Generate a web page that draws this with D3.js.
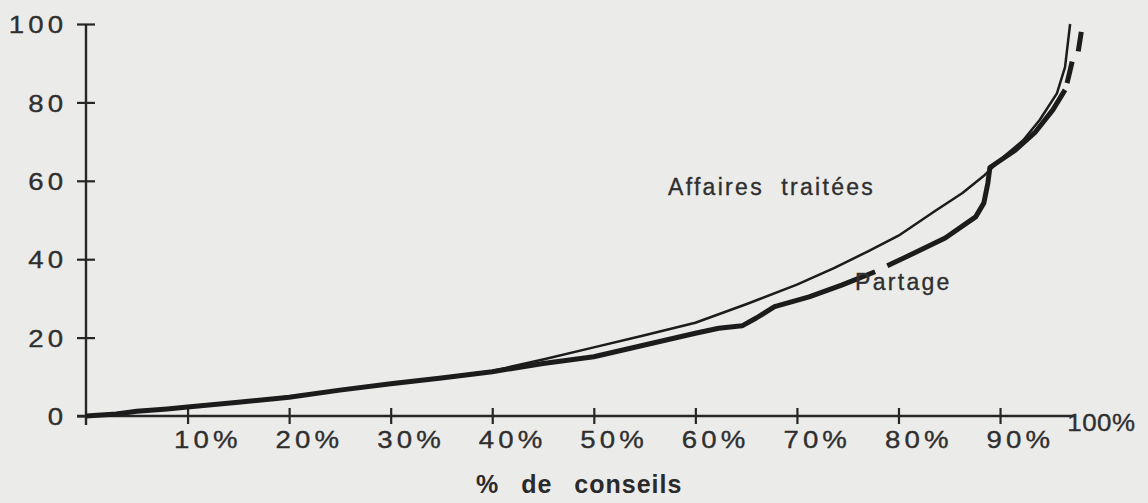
<!DOCTYPE html>
<html>
<head>
<meta charset="utf-8">
<script src="https://cdn.jsdelivr.net/npm/d3@7"></script>
<style>
  html, body { margin: 0; padding: 0; background: #ebebea; }
  svg { display: block; }
</style>
</head>
<body>
<svg id="chart" width="1148" height="503"></svg>
<script>
// ---- data ----
const yTicks = [0, 20, 40, 60, 80, 100];
const xTicks = [10, 20, 30, 40, 50, 60, 70, 80, 90];
const xTickLabels = ["10%", "20%", "30%", "40%", "50%", "60%", "70%", "80%", "90%"];
const xEndLabel = "100%";
const xTitle = "% de conseils";

// "Affaires traitées" (thin solid curve): [% de conseils, %]
const affairesX = [0, 5, 10, 15, 20, 25, 30, 35, 40, 45, 50, 55, 60, 65, 70, 73.7, 77, 80, 83.6, 86.3, 88.5, 90.3, 92.3, 93.9, 95.6, 96.4, 96.9];
const affairesY = [0, 1.2, 2.4, 3.6, 4.9, 6.5, 8.3, 9.8, 11.5, 14.4, 17.5, 20.6, 23.8, 28.5, 33.5, 37.8, 42, 46, 52.3, 56.9, 61.5, 66, 70.4, 75.5, 82.3, 89, 100];

// "Partage" (thick broken curve), null = break in the line
const partageX = [0, 3, 5, 8, 10, 15, 20, 25, 30, 35, 40, 45, 50, 55, 60, 62.3, 64.6, 66, 67.8, 71.2, 74.4, 77.7, 78.3, 78.9, 81.5, 84.6, 87.6, 88.4, 88.8, 89.0, 91.5, 93.5, 95.2, 96.4, 96.5, 96.6, 97.1, 97.4, 97.7, 98.0];
const partageY = [0, 0.5, 1.2, 1.8, 2.3, 3.5, 4.8, 6.6, 8.2, 9.7, 11.3, 13.4, 15.1, 18.1, 21.1, 22.4, 23.0, 25.0, 27.9, 30.4, 33.4, 36.8, null, 38.3, 41.5, 45.4, 50.8, 54.3, 59.4, 63.4, 67.8, 72.5, 78.1, 83.2, null, 84.9, 90.4, null, 93.0, 98.0];

const seriesLabels = ["Affaires  traitées", "Partage"];

// ---- layout ----
const svg = d3.select("#chart");
const ink = "#262626";
const textCol = "#2f2f2f";
const SX = 1.15; // horizontal stretch of the numeric labels

const x = d3.scaleLinear().domain([0, 100]).range([86, 1101.6]);
const y = d3.scaleLinear().domain([0, 100]).range([416, 24]);
const xAxisEnd = 97.3;

function numStyle(sel) {
  sel.attr("fill", textCol)
    .attr("stroke", textCol).attr("stroke-width", 0.35)
    .style("font-family", "'Liberation Sans', Arial, sans-serif")
    .style("font-size", "24px")
    .style("letter-spacing", "3.6px");
}

// Y axis
const yAxis = svg.append("g")
  .attr("transform", `translate(${x(0)},0)`)
  .call(d3.axisLeft(y).tickValues(yTicks).tickSize(9).tickPadding(0).tickFormat(d3.format("d")));
yAxis.select(".domain").remove();
yAxis.selectAll(".tick line").attr("x1", -9).attr("x2", 9).attr("stroke", ink).attr("stroke-width", 2.2);
yAxis.selectAll(".tick text")
  .attr("x", -16.3)
  .attr("dy", "0.36em")
  .attr("transform", `scale(${SX},1)`)
  .call(numStyle);
svg.append("line")
  .attr("x1", x(0)).attr("x2", x(0))
  .attr("y1", y(100)).attr("y2", y(0) + 9)
  .attr("stroke", ink).attr("stroke-width", 2.4);

// X axis
const xAxis = svg.append("g")
  .attr("transform", `translate(0,${y(0)})`)
  .call(d3.axisBottom(x).tickValues(xTicks).tickSize(8).tickPadding(0)
        .tickFormat((d, i) => xTickLabels[i]));
xAxis.select(".domain").remove();
xAxis.selectAll(".tick line").attr("y1", -8).attr("y2", 8).attr("stroke", ink).attr("stroke-width", 2.2);
xAxis.selectAll(".tick text")
  .attr("x", -12.2)
  .attr("y", 32)
  .attr("dy", 0)
  .attr("text-anchor", "start")
  .attr("transform", `scale(${SX},1)`)
  .call(numStyle);
svg.append("line")
  .attr("x1", x(0) - 9).attr("x2", x(xAxisEnd))
  .attr("y1", y(0)).attr("y2", y(0))
  .attr("stroke", ink).attr("stroke-width", 2.4);

// "100%" at the end of the x axis
svg.append("text")
  .attr("transform", `translate(${x(xAxisEnd) - 7},431) scale(1.08,1)`)
  .call(numStyle)
  .style("letter-spacing", "0.5px")
  .text(xEndLabel);

// X title
svg.append("text")
  .attr("x", 476)
  .attr("y", 493)
  .attr("fill", "#2a2a2a")
  .style("font-family", "'Liberation Sans', Arial, sans-serif")
  .style("font-weight", "bold")
  .style("font-size", "25px")
  .style("letter-spacing", "1px")
  .style("word-spacing", "14px")
  .text(xTitle);

// ---- curves ----
const affaires = affairesX.map((v, i) => [v, affairesY[i]]);
const partage = partageX.map((v, i) => [v, partageY[i]]);

const line = d3.line()
  .defined(d => d[1] != null)
  .x(d => x(d[0]))
  .y(d => y(d[1]))
  .curve(d3.curveLinear);

svg.append("path")
  .datum(partage)
  .attr("d", line)
  .attr("fill", "none")
  .attr("stroke", "#1c1c1c")
  .attr("stroke-width", 5)
  .attr("stroke-linejoin", "round");

svg.append("path")
  .datum(affaires)
  .attr("d", line)
  .attr("fill", "none")
  .attr("stroke", "#1c1c1c")
  .attr("stroke-width", 2.5)
  .attr("stroke-linejoin", "round");

// series labels
function labelStyle(sel) {
  sel.attr("fill", textCol)
    .attr("stroke", textCol).attr("stroke-width", 0.35)
    .style("font-family", "'Liberation Sans', Arial, sans-serif")
    .style("font-size", "23px")
    .style("letter-spacing", "2.3px")
    .style("white-space", "pre");
}
svg.append("text")
  .attr("x", 668).attr("y", 195)
  .call(labelStyle)
  .text(seriesLabels[0]);
svg.append("text")
  .attr("x", 855).attr("y", 290)
  .call(labelStyle)
  .text(seriesLabels[1]);
</script>
</body>
</html>
